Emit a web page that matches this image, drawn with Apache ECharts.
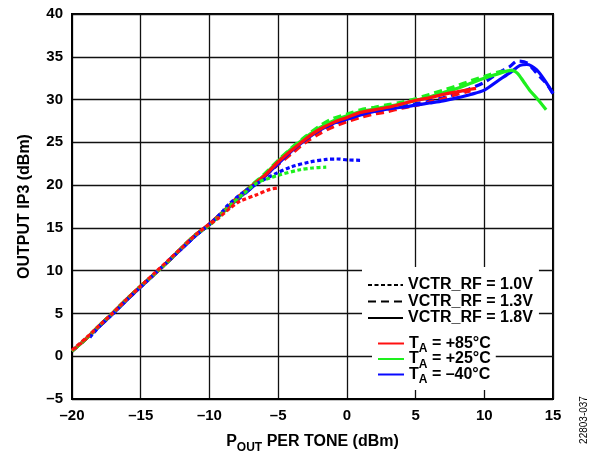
<!DOCTYPE html>
<html>
<head>
<meta charset="utf-8">
<script src="https://cdn.jsdelivr.net/npm/echarts@6/dist/echarts.min.js"></script>
<style>
html,body{margin:0;padding:0;background:#fff;}
#chart{width:597px;height:456px;}
</style>
</head>
<body>
<div id="chart"></div>
<script>
// ---------- data ----------
const xTicks = [-20, -15, -10, -5, 0, 5, 10, 15];
const yTicks = [-5, 0, 5, 10, 15, 20, 25, 30, 35, 40];

// VCTR_RF = 1.8V (solid)
const red18X   = [-20,-19,-18,-17,-16,-15,-14,-13,-12,-11,-10,-9,-8,-7,-6,-5,-4,-3,-2,-1,0,1,2,3,4,5,6,7,8,9,9.4];
const red18Y   = [0.6,2.0,3.6,5.1,6.7,8.2,9.6,11.1,12.7,14.2,15.5,16.9,18.5,19.8,21.1,22.7,24.1,25.4,26.5,27.3,27.9,28.5,28.8,29.1,29.5,29.9,30.2,30.6,30.9,31.2,31.3];
const green18X = [-20,-19,-18,-17,-16,-15,-14,-13,-12,-11,-10,-9,-8,-7,-6,-5,-4,-3,-2,-1,0,1,2,3,4,5,6,7,8,9,10,11,12,12.4,12.9,13.3,13.9,14.5];
const green18Y = [0.6,2.0,3.6,5.1,6.7,8.2,9.6,11.1,12.7,14.2,15.4,16.8,18.4,19.8,21.2,22.8,24.3,25.6,26.7,27.5,28.1,28.6,28.9,29.2,29.5,29.9,30.3,30.8,31.3,31.9,32.5,33.0,33.4,33.1,32.0,31.1,30.0,28.8];
const blue18X  = [-20,-19,-18,-17,-16,-15,-14,-13,-12,-11,-10,-9,-8,-7,-6,-5,-4,-3,-2,-1,0,1,2,3,4,5,6,7,8,9,10,11,12,12.6,13.1,13.8,14.5,15];
const blue18Y  = [0.6,2.0,3.5,5.0,6.6,8.1,9.6,11.1,12.6,14.1,15.4,16.9,18.3,19.6,21.0,22.5,24.0,25.3,26.4,27.2,27.7,28.2,28.6,28.9,29.1,29.35,29.6,29.85,30.2,30.6,31.1,32.2,33.3,34.0,34.1,33.5,32.0,30.7];

// VCTR_RF = 1.3V (dashed)
const red13X   = [-20,-19,-18,-17,-16,-15,-14,-13,-12,-11,-10,-9,-8,-7,-6,-5,-4,-3,-2,-1,0,1,2,3,4,5,6,7,8,9];
const red13Y   = [0.6,2.0,3.6,5.1,6.7,8.2,9.6,11.1,12.7,14.2,15.4,16.8,18.3,19.7,21.0,22.4,23.7,25.0,26.0,26.8,27.4,27.9,28.3,28.6,29.0,29.3,29.7,30.1,30.6,31.0];
const green13X = [-20,-19,-18,-17,-16,-15,-14,-13,-12,-11,-10,-9,-8,-7,-6,-5,-4,-3,-2,-1,0,1,2,3,4,5,6,7,8,9,10,11,12,12.3];
const green13Y = [0.6,2.0,3.6,5.1,6.7,8.2,9.6,11.1,12.7,14.2,15.4,16.9,18.5,19.9,21.3,22.9,24.4,25.7,26.9,27.8,28.3,28.8,29.1,29.4,29.7,30.1,30.6,31.1,31.6,32.2,32.7,33.2,33.4,33.3];
const blue13X  = [-20,-19,-18,-17,-16,-15,-14,-13,-12,-11,-10,-9,-8,-7,-6,-5,-4,-3,-2,-1,0,1,2,3,4,5,6,7,8,9,10,11,11.9,12.4,13.1,13.8,14.5,15];
const blue13Y  = [0.6,2.0,3.5,5.0,6.6,8.1,9.6,11.1,12.6,14.1,15.4,16.8,18.2,19.6,21.0,22.5,23.9,25.2,26.3,27.1,27.7,28.2,28.6,28.9,29.2,29.5,29.8,30.2,30.7,31.3,32.0,33.1,33.9,34.5,34.3,33.1,31.9,30.7];

// VCTR_RF = 1.0V (dotted)
const red10X   = [-20,-19,-18,-17,-16,-15,-14,-13,-12,-11,-10,-9.3,-8.5,-7.8,-6.6,-5.6,-4.9];
const red10Y   = [0.7,2.1,3.6,5.1,6.7,8.2,9.7,11.2,12.7,14.2,15.4,16.2,17.3,18.1,18.85,19.5,19.7];
const green10X = [-20,-19,-18,-17,-16,-15,-14,-13,-12,-11,-10,-9,-8.3,-7.5,-6.6,-5.5,-4.9,-3.4,-2.5,-1.5];
const green10Y = [0.6,2.0,3.6,5.1,6.7,8.2,9.6,11.1,12.7,14.2,15.3,16.8,17.9,19.0,20.2,20.9,21.2,21.8,22.0,22.1];
const blue10X  = [-18.7,-18,-17,-16,-15,-14,-13,-12,-11,-10,-9,-8.7,-7.5,-6.3,-5.1,-4.1,-2.7,-1.5,-0.7,0,1];
const blue10Y  = [2.2,3.5,5.0,6.6,8.1,9.6,11.1,12.6,14.1,15.4,17.0,17.6,19.2,20.4,21.4,22.1,22.7,23.0,23.05,22.95,22.9];

const vctrNames = ['VCTR_RF = 1.0V', 'VCTR_RF = 1.3V', 'VCTR_RF = 1.8V'];
const tempNames = ['+85°C', '+25°C', '\u201340°C'];

// ---------- styling ----------
const FONT = '"Liberation Sans", Arial, sans-serif';
const RED = '#ff1010', GREEN = '#1ef01e', BLUE = '#0808ff';
const DOT = [4, 2.5], DASH = [8, 5];

function pairs(xs, ys) { return xs.map((x, i) => [x, ys[i]]); }
function mk(name, xs, ys, color, type) {
  return {
    name: name, type: 'line', data: pairs(xs, ys), symbol: 'none', smooth: 0.3,
    color: color, lineStyle: { color: color, width: 3.2, type: type },
    silent: true, animation: false, z: 3
  };
}
function dummy(name, color, type) {
  return { name: name, type: 'line', data: [], symbol: 'none', showSymbol: false, color: color,
    lineStyle: { color: color, width: 3, type: type }, animation: false };
}
const fmt = v => String(v).replace('-', '\u2013');

const series = [
  mk('b13', blue13X, blue13Y, BLUE, DASH),
  mk('g13', green13X, green13Y, GREEN, DASH),
  mk('r13', red13X, red13Y, RED, DASH),
  mk('b18', blue18X, blue18Y, BLUE, 'solid'),
  mk('g18', green18X, green18Y, GREEN, 'solid'),
  mk('r18', red18X, red18Y, RED, 'solid'),
  mk('b10', blue10X, blue10Y, BLUE, DOT),
  mk('g10', green10X, green10Y, GREEN, DOT),
  mk('r10', red10X, red10Y, RED, DOT),
  dummy(vctrNames[0], '#000', DOT),
  dummy(vctrNames[1], '#000', DASH),
  dummy(vctrNames[2], '#000', 'solid'),
  dummy(tempNames[0], RED, 'solid'),
  dummy(tempNames[1], GREEN, 'solid'),
  dummy(tempNames[2], BLUE, 'solid')
];

const richSub = {
  a: { fontFamily: FONT, fontSize: 16, fontWeight: 'bold', color: '#000', lineHeight: 15.5 },
  s: { fontFamily: FONT, fontSize: 12, fontWeight: 'bold', color: '#000', lineHeight: 4, padding: [11, 0, 0, 0] }
};
const hiddenSymbol = { opacity: 0, color: 'rgba(0,0,0,0)', borderWidth: 0 };

const option = {
  backgroundColor: '#fff',
  animation: false,
  grid: { left: 72, right: 44, top: 14, bottom: 57, show: true, borderColor: '#000', borderWidth: 2,
          containLabel: false, outerBoundsMode: 'none' },
  xAxis: {
    type: 'value', min: xTicks[0], max: xTicks[xTicks.length - 1], interval: 5,
    axisLine: { show: true, onZero: false, lineStyle: { color: '#000', width: 2 } },
    axisTick: { show: false },
    splitLine: { show: true, lineStyle: { color: '#111', width: 1.3 } },
    axisLabel: { fontFamily: FONT, fontSize: 15, fontWeight: 'bold', color: '#000', margin: 9, formatter: fmt },
    name: '{a|P}{s|OUT}{a| PER TONE (dBm)}',
    nameLocation: 'middle', nameGap: 35,
    nameTextStyle: { rich: richSub }
  },
  yAxis: {
    type: 'value', min: yTicks[0], max: yTicks[yTicks.length - 1], interval: 5,
    axisLine: { show: true, onZero: false, lineStyle: { color: '#000', width: 2 } },
    axisTick: { show: false },
    splitLine: { show: true, lineStyle: { color: '#111', width: 1.3 } },
    axisLabel: { fontFamily: FONT, fontSize: 15, fontWeight: 'bold', color: '#000', margin: 9, formatter: fmt },
    name: 'OUTPUT IP3 (dBm)', nameLocation: 'middle', nameGap: 39,
    nameTextStyle: { fontFamily: FONT, fontSize: 16, fontWeight: 'bold', color: '#000' }
  },
  legend: [
    {
      data: vctrNames, orient: 'vertical', left: 362, top: 267,
      itemWidth: 35, itemHeight: 14, itemGap: 0.5,
      padding: [10, 6, 3, 5], backgroundColor: '#fff', selectedMode: false,
      itemStyle: hiddenSymbol,
      textStyle: { fontFamily: FONT, fontSize: 16, fontWeight: 'bold', color: '#000', lineHeight: 16 }
    },
    {
      data: tempNames, orient: 'vertical', left: 372, top: 329,
      itemWidth: 26, itemHeight: 14, itemGap: -7.5,
      padding: [3, 5, 4, 5], backgroundColor: '#fff', selectedMode: false,
      itemStyle: hiddenSymbol,
      formatter: n => '{a|T}{s|A}{a| = ' + n + '}',
      textStyle: { rich: richSub }
    }
  ],
  graphic: [
    { type: 'text', x: 584, y: 420, rotation: Math.PI / 2,
      style: { text: '22803-037', font: '10px ' + FONT, fill: '#000', align: 'center', verticalAlign: 'middle' } }
  ],
  series: series
};

const chart = echarts.init(document.getElementById('chart'), null, { renderer: 'canvas' });
chart.setOption(option);
</script>
</body>
</html>
